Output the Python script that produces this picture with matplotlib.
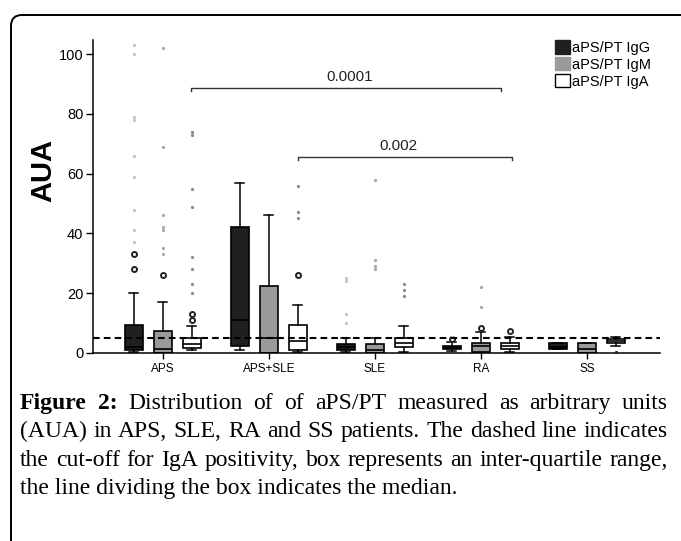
import matplotlib
matplotlib.use('Agg')
import matplotlib.pyplot as plt
import matplotlib.patches as mpatches
from matplotlib.transforms import IdentityTransform

# groups on the x axis
groups = ['APS', 'APS+SLE', 'SLE', 'RA', 'SS']
isotypes = ['aPS/PT IgG', 'aPS/PT IgM', 'aPS/PT IgA']

# box statistics (AUA), one list per isotype, in group order
igg_q1 = [0.9, 2.4, 0.9, 1.2, 1.2]
igg_med = [2.0, 11.0, 2.0, 1.6, 2.0]
igg_q3 = [9.4, 42.0, 3.1, 2.4, 3.4]
igg_lo = [0.5, 1.0, 0.3, 0.8, 1.2]
igg_hi = [20.0, 57.0, 5.0, 3.8, 3.4]
igg_out = [[33, 28], [], [], [4.6], []]
igg_ext = [[103, 100, 79, 78, 66, 59, 48, 41, 37], [], [25, 24, 13, 10], [5.4], []]

igm_q1 = [0.0, 0.0, 0.0, 0.4, 0.0]
igm_med = [1.2, 5.0, 1.0, 2.4, 1.2]
igm_q3 = [7.4, 22.5, 3.1, 3.4, 3.4]
igm_lo = [0.0, 0.0, 0.0, 0.0, 0.0]
igm_hi = [17.0, 46.0, 5.0, 7.1, 3.4]
igm_out = [[26], [], [], [8.3], []]
igm_ext = [[102, 69, 46, 42, 41, 35, 33], [], [58, 31, 29, 28], [22, 15.3], []]

iga_q1 = [1.8, 1.0, 2.0, 1.2, 3.4]
iga_med = [3.1, 4.0, 3.5, 2.3, 4.0]
iga_q3 = [5.0, 9.5, 5.0, 3.4, 4.6]
iga_lo = [1.0, 0.5, 0.5, 0.5, 2.4]
iga_hi = [9.0, 16.0, 9.0, 5.2, 5.3]
iga_out = [[13, 11], [26], [], [7.4], []]
iga_ext = [[74, 73, 55, 49, 32, 28, 23, 20], [56, 47, 45], [23, 21, 19], [], [0.4]]

cutoff = 5
brackets = [(0.264, 3.19, 88.7, '0.0001', 1.76), (1.27, 3.29, 65.7, '0.002', 2.22)]

caption_lines = [
    [('Figure', True), ('2:', True), ('Distribution', False), ('of', False), ('of', False),
     ('aPS/PT', False), ('measured', False), ('as', False), ('arbitrary', False), ('units', False)],
    [(w, False) for w in '(AUA) in APS, SLE, RA and SS patients. The dashed line indicates'.split()],
    [(w, False) for w in 'the cut-off for IgA positivity, box represents an inter-quartile range,'.split()],
]
caption_last = 'the line dividing the box indicates the median.'

W, H = 681, 541
fig = plt.figure(figsize=(W / 100, H / 100), dpi=100)
sans = 'Liberation Sans'
serif = 'Liberation Serif'

# rounded frame around the figure
frame = mpatches.FancyBboxPatch((11, -30), 720, H - 15 + 30, boxstyle='round,pad=0,rounding_size=11',
                                transform=IdentityTransform(), fill=False, ec='black', lw=1.4)
fig.add_artist(frame)

ax = fig.add_axes([93 / W, (H - 353) / H, (660 - 93) / W, (353 - 40) / H])

series = [
    (igg_q1, igg_med, igg_q3, igg_lo, igg_hi, igg_out, igg_ext, '#231f20', '#c4c4c4', -0.274),
    (igm_q1, igm_med, igm_q3, igm_lo, igm_hi, igm_out, igm_ext, '#9a9a9a', '#a8a8a8', 0.0),
    (iga_q1, iga_med, iga_q3, iga_lo, iga_hi, iga_out, iga_ext, 'white', '#8a8a8a', 0.274),
]

handles = []
for (q1, med, q3, lo, hi, out, ext, fc, dotc, off), name in zip(series, isotypes):
    stats = []
    for i in range(len(groups)):
        stats.append(dict(q1=q1[i], med=med[i], q3=q3[i], whislo=lo[i], whishi=hi[i], fliers=out[i]))
    pos = [i + off for i in range(len(groups))]
    ax.bxp(stats, positions=pos, widths=0.17, patch_artist=True, manage_ticks=False,
           boxprops=dict(facecolor=fc, edgecolor='black', linewidth=1.2),
           medianprops=dict(color='black', linewidth=1.2),
           whiskerprops=dict(color='black', linewidth=1.1),
           capprops=dict(color='black', linewidth=1.1),
           flierprops=dict(marker='o', markerfacecolor='none', markeredgecolor='#222222',
                           markeredgewidth=1.4, markersize=3.6))
    for i in range(len(groups)):
        if ext[i]:
            c = '#222222' if ext[i] == [0.4] else dotc
            ax.plot([pos[i]] * len(ext[i]), ext[i], 'o', color=c, ms=2.3, mec='none', zorder=3)
    handles.append(mpatches.Patch(facecolor=fc, edgecolor='black' if fc == 'white' else fc, lw=1.0, label=name))

ax.axhline(cutoff, color='black', lw=1.5, ls=(0, (3.2, 2.0)), zorder=4)

for x1, x2, y, label, tx in brackets:
    ax.plot([x1, x1, x2, x2], [y - 1.0, y, y, y - 1.0], color='#333333', lw=1.0)
    ax.text(tx, y + 1.3, label, ha='center', va='bottom', fontsize=11, family=sans, color='#222222')

ax.set_xlim(-0.66, 4.69)
ax.set_ylim(0, 104.7)
ax.set_yticks([0, 20, 40, 60, 80, 100])
ax.set_xticks(range(len(groups)))
ax.set_xticklabels(groups, fontsize=8.5, family=sans)
ax.tick_params(axis='y', labelsize=10.5, length=5, width=1.0, pad=2)
ax.tick_params(axis='x', length=4, width=1.0, pad=3)
for lab in ax.get_yticklabels():
    lab.set_family(sans)
ax.spines[['right', 'top']].set_visible(False)
ax.spines[['left', 'bottom']].set_linewidth(1.1)

fig.text(43 / W, 1 - 170 / H, 'AUA', rotation=90, ha='center', va='center',
         fontsize=21, fontweight='bold', family=sans)

leg = fig.legend(handles=handles, loc='upper left', bbox_to_anchor=(555 / W, 1 - 40 / H),
                 frameon=False, prop=dict(family=sans, size=10.5),
                 handlelength=1.0, handleheight=1.05, handletextpad=0.2,
                 labelspacing=0.15, borderpad=0, borderaxespad=0)

# justified caption
renderer = fig.canvas.get_renderer()
left, right = 20, 668
cap_size = 17
for k, words in enumerate(caption_lines):
    y = 1 - (409 + 28.3 * k) / H
    texts = [fig.text(0, y, w, fontsize=cap_size, family=serif,
                      fontweight='bold' if b else 'normal', va='baseline', ha='left')
             for w, b in words]
    widths = [t.get_window_extent(renderer).width for t in texts]
    gap = (right - left - sum(widths)) / (len(words) - 1)
    x = left
    for t, wd in zip(texts, widths):
        t.set_x(x / W)
        x += wd + gap
fig.text(left / W, 1 - (409 + 28.3 * 3) / H, caption_last, fontsize=cap_size, family=serif,
         va='baseline', ha='left')

fig.savefig('out.png', dpi=100)
